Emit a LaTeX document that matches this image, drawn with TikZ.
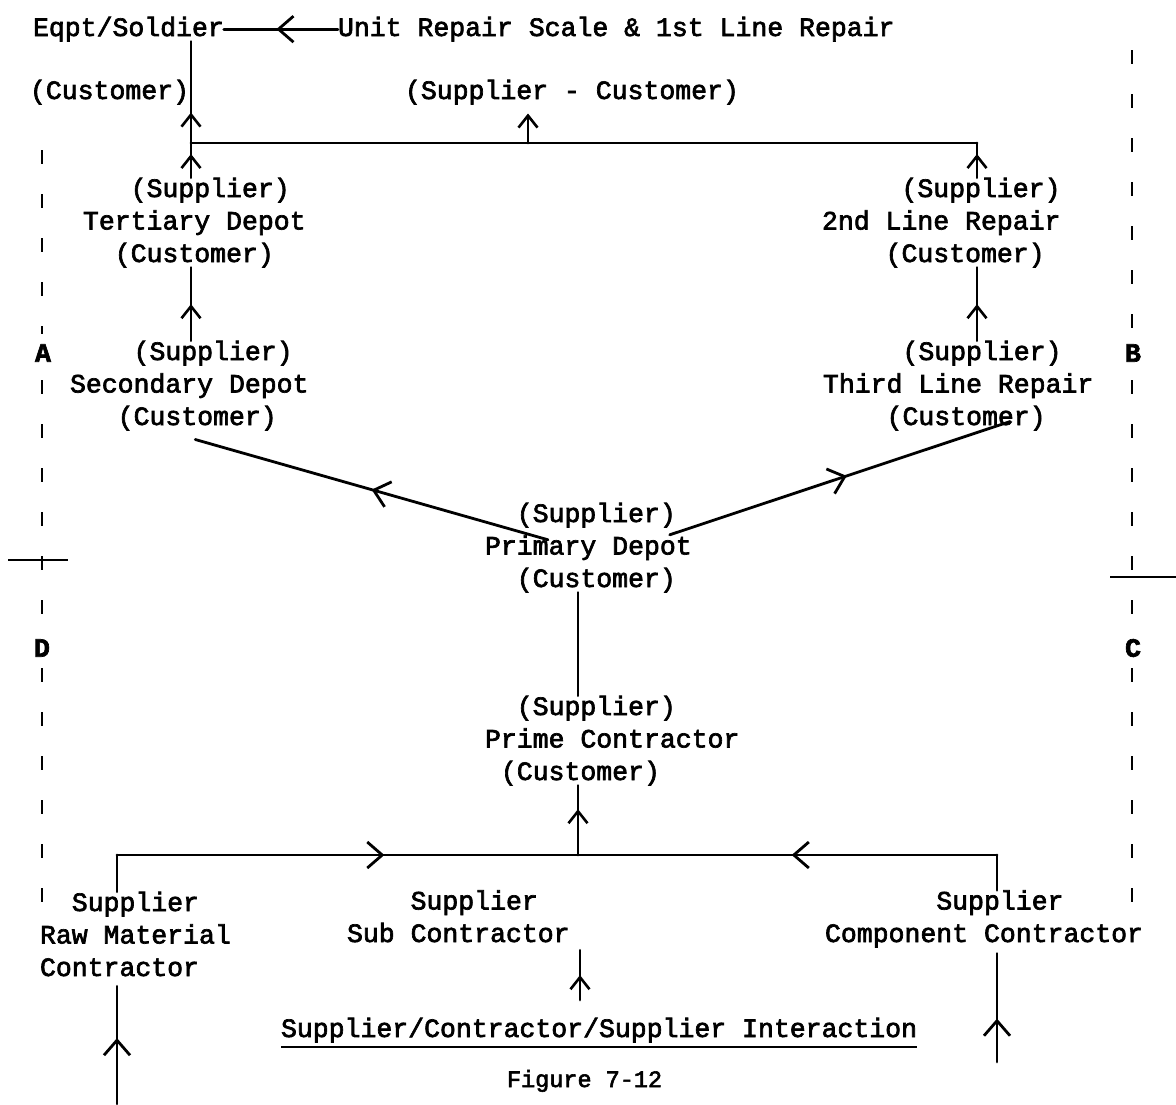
\documentclass[tikz,border=0pt]{standalone}
\usepackage{fontspec}
\setmainfont{Liberation Mono}[FakeBold=2.5]
\usetikzlibrary{arrows.meta,decorations.markings,calc}
\begin{document}
\begin{tikzpicture}[x=1pt,y=-1pt,
  every node/.style={inner sep=0pt,outer sep=0pt},
  tw/.style={font=\fontsize{26.5}{32.5}\selectfont},
  txt/.style={tw,anchor=base west,align=left},
  zone/.style={font=\fontsize{26.5}{32.5}\selectfont\bfseries},
  wire/.style={line width=2.8pt,line cap=round},
  bigbarb/.tip={Straight Barb[length=15pt,width=26pt,line width=2.8pt]},
  smallbarb/.tip={Straight Barb[length=12pt,width=19pt,line width=2.6pt]},
  midbig/.style={postaction={decorate,decoration={markings,mark=at position #1 with {\arrow{bigbarb}}}}},
  midsmall/.style={postaction={decorate,decoration={markings,mark=at position #1 with {\arrow{smallbarb}}}}},
  sep/.style={line width=2.8pt,dash pattern=on 14pt off 30pt},
]
\fill[white] (0,0) rectangle (1176,1104);
\useasboundingbox (0,0) rectangle (1176,1104);

% ---- text blocks (multi-line blocks are placed by the baseline of their last line) ----
\node[txt] (eqpt)      at (33,36)  {Eqpt/Soldier};
\node[txt] (unitrep)   at (338,36) {Unit Repair Scale \& 1st Line Repair};
\node[txt] (custtop)   at (30,99)  {(Customer)};
\node[txt] (supcust)   at (405,99) {(Supplier - Customer)};
\node[txt] (tertiary)  at (83,262) {\hphantom{xxx}(Supplier)\\Tertiary Depot\\\hphantom{xx}(Customer)};
\node[txt] (secondary) at (70,425) {\hphantom{xxxx}(Supplier)\\Secondary Depot\\\hphantom{xxx}(Customer)};
\node[txt] (line2)     at (822,262) {\hphantom{xxxxx}(Supplier)\\2nd Line Repair\\\hphantom{xxxx}(Customer)};
\node[txt] (third)     at (823,425) {\hphantom{xxxxx}(Supplier)\\Third Line Repair\\\hphantom{xxxx}(Customer)};
\node[txt] (primary)   at (485,587) {\hphantom{xx}(Supplier)\\Primary Depot\\\hphantom{xx}(Customer)};
\node[txt] (prime)     at (485,780) {\hphantom{xx}(Supplier)\\Prime Contractor\\\hphantom{x}(Customer)};
\node[txt] (raw)       at (40,976)  {\hphantom{xx}Supplier\\Raw Material\\Contractor};
\node[txt] (sub)       at (347,942) {\hphantom{xxxx}Supplier\\Sub Contractor};
\node[txt] (component) at (825,942) {\hphantom{xxxxxxx}Supplier\\Component Contractor};
\node[txt] (interaction) at (281,1037) {Supplier/Contractor/Supplier Interaction};
\node[anchor=base west,font=\fontsize{23.5}{28}\selectfont] (figno) at (507,1087) {Figure 7-12};

% ---- junction points ----
\coordinate (jL) at (191,143);
\coordinate (jM) at (528,143);
\coordinate (jR) at (977,143);
\coordinate (bL) at (117,855);
\coordinate (bM) at (578,855);
\coordinate (bR) at (997,855);
\coordinate (subfoot) at (580,1000);
\coordinate (rawfoot) at (117,1104);
\coordinate (compfoot) at (997,1062);

% ---- upper distribution chain ----
\draw[wire,midbig=0.54] (unitrep.west) -- (eqpt.east |- unitrep.west);
\draw[wire,midsmall=0.3] (jL) -- (eqpt.south -| jL);
\draw[wire] (jL) -- (jR);
\draw[wire,-{smallbarb}] (jM) -- ($(supcust.south -| jM)+(0,9)$);
\draw[wire,midsmall=-11pt] (tertiary.north -| jL) -- (jL);
\draw[wire,midsmall=-11pt] (line2.north -| jR) -- (jR);
\draw[wire,midsmall=0.5] (secondary.north -| jL) -- (tertiary.south -| jL);
\draw[wire,midsmall=0.5] (third.north -| jR) -- (line2.south -| jR);
\draw[wire,midbig=0.5] ($(primary.north west)+(63,37)$) -- ($(secondary.south)+(6,9)$);
\draw[wire,midbig=0.52] ($(primary.north east)+(-22,32)$) -- ($(third.south)+(52,-9)$);
\draw[wire] (primary.south -| bM) -- (prime.north -| bM);

% ---- supplier / contractor level ----
\draw[wire,midsmall=0.66] (bM) -- (prime.south -| bM);
\draw[wire,midbig=0.58] (bL) -- (bM);
\draw[wire,midbig=0.49] (bR) -- (bM);
\draw[wire] (raw.north -| bL) -- (bL);
\draw[wire] (component.north -| bR) -- (bR);
\draw[wire,midbig=0.56] (rawfoot) -- ($(raw.south -| rawfoot)+(0,10)$);
\draw[wire,midbig=0.4] (compfoot) -- ($(component.south -| compfoot)+(0,6)$);
\draw[wire,midsmall=0.5] (subfoot) -- ($(sub.south -| subfoot)+(0,8)$);
\draw[line width=2.2pt] ($(interaction.base west)+(0,10)$) -- ($(interaction.base east)+(0,10)$);

% ---- zone boundaries ----
\draw[sep] (42,150) -- (42,334);
\node[zone] (zA) at (43,353) {A};
\draw[sep] (42,380) -- (42,630);
\node[zone] (zD) at (42,648) {D};
\draw[sep] (42,668) -- (42,915);
\draw[line width=2.8pt] (8,560) -- (68,560);

\draw[sep] (1132,50) -- (1132,334);
\node[zone] (zB) at (1133,353) {B};
\draw[sep] (1132,380) -- (1132,630);
\node[zone] (zC) at (1133,648) {C};
\draw[sep] (1132,668) -- (1132,915);
\draw[line width=2.8pt] (1110,577) -- (1176,577);
\end{tikzpicture}
\end{document}
